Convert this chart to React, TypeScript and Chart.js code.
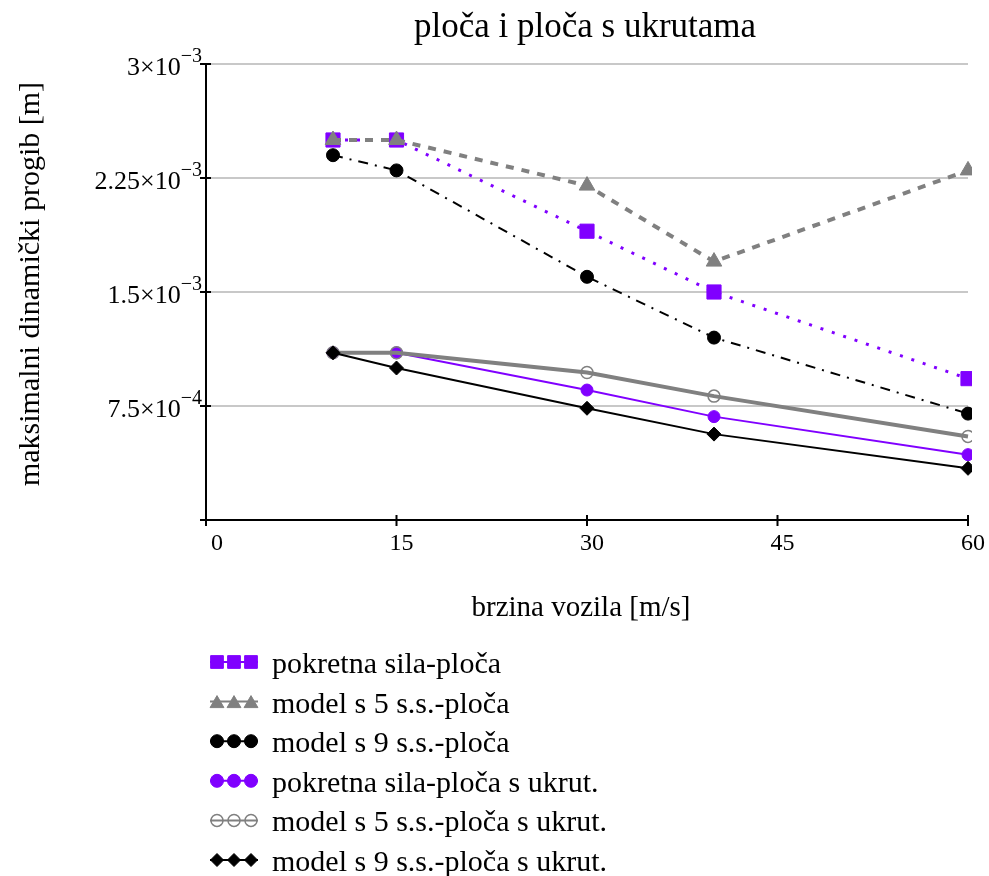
import React, { useEffect, useRef } from 'react';
import { Chart, registerables } from 'chart.js';

Chart.register(...registerables);

// ---- data ----
const speeds = [10, 15, 30, 40, 60];
const pokretnaSila = [2.5e-3, 2.5e-3, 1.9e-3, 1.5e-3, 0.93e-3];
const model5 = [2.5e-3, 2.5e-3, 2.2e-3, 1.7e-3, 2.3e-3];
const model9 = [2.4e-3, 2.3e-3, 1.6e-3, 1.2e-3, 0.7e-3];
const pokretnaSilaUkrut = [1.1e-3, 1.1e-3, 0.855e-3, 0.68e-3, 0.43e-3];
const model5Ukrut = [1.1e-3, 1.1e-3, 0.97e-3, 0.815e-3, 0.55e-3];
const model9Ukrut = [1.1e-3, 1.0e-3, 0.735e-3, 0.565e-3, 0.34e-3];

const seriesNames = [
  'pokretna sila-ploča',
  'model s 5 s.s.-ploča',
  'model s 9 s.s.-ploča',
  'pokretna sila-ploča s ukrut.',
  'model s 5 s.s.-ploča s ukrut.',
  'model s 9 s.s.-ploča s ukrut.',
];

const xTicks = [0, 15, 30, 45, 60];
const xTickLabels = ['0', '15', '30', '45', '60'];
const yTicks = [0.75e-3, 1.5e-3, 2.25e-3, 3e-3];
const yTickMantissa = ['7.5', '1.5', '2.25', '3'];
const yTickExp = ['\u22124', '\u22123', '\u22123', '\u22123'];

const titleText = 'ploča i ploča s ukrutama';
const xTitle = 'brzina vozila [m/s]';
const yTitle = 'maksimalni dinamički progib [m]';

const PURPLE = '#8000ff';
const GRAY = '#808080';
const BLACK = '#000000';
const FONT = '"Liberation Serif", "Times New Roman", serif';

type Style = {
  color: string;
  width: number;
  dash: number[];
  point: string;
  radius: number;
  legendRadius: number;
  fill: string;
  pbw: number;
};

const styles: Style[] = [
  { color: PURPLE, width: 3, dash: [3, 9], point: 'rect', radius: 10, legendRadius: 9, fill: PURPLE, pbw: 1 },
  { color: GRAY, width: 4, dash: [8, 8], point: 'triangle', radius: 9, legendRadius: 8, fill: GRAY, pbw: 1 },
  { color: BLACK, width: 2, dash: [10, 7, 2, 7], point: 'circle', radius: 6.5, legendRadius: 6.5, fill: BLACK, pbw: 1 },
  { color: PURPLE, width: 2, dash: [], point: 'circle', radius: 6, legendRadius: 6.5, fill: PURPLE, pbw: 1 },
  { color: GRAY, width: 4, dash: [], point: 'circle', radius: 6, legendRadius: 6, fill: 'rgba(0,0,0,0)', pbw: 1.5 },
  { color: BLACK, width: 2, dash: [], point: 'rectRot', radius: 7, legendRadius: 6.5, fill: BLACK, pbw: 1 },
];
const drawOrder = [5, 4, 3, 2, 1, 0];
const seriesValues = [pokretnaSila, model5, model9, pokretnaSilaUkrut, model5Ukrut, model9Ukrut];

function drawMarker(ctx: CanvasRenderingContext2D, s: Style, x: number, y: number, r: number) {
  ctx.save();
  ctx.setLineDash([]);
  ctx.beginPath();
  if (s.point === 'rect') {
    const h = r * Math.SQRT1_2;
    ctx.rect(x - h, y - h, 2 * h, 2 * h);
  } else if (s.point === 'rectRot') {
    ctx.moveTo(x, y - r);
    ctx.lineTo(x + r, y);
    ctx.lineTo(x, y + r);
    ctx.lineTo(x - r, y);
    ctx.closePath();
  } else if (s.point === 'triangle') {
    const w = r * Math.sqrt(3) / 2;
    ctx.moveTo(x, y - r);
    ctx.lineTo(x + w, y + r / 2);
    ctx.lineTo(x - w, y + r / 2);
    ctx.closePath();
  } else {
    ctx.arc(x, y, r, 0, Math.PI * 2);
  }
  ctx.fillStyle = s.fill;
  ctx.fill();
  ctx.lineWidth = s.pbw;
  ctx.strokeStyle = s.color;
  ctx.stroke();
  ctx.restore();
}

const decorPlugin = {
  id: 'decor',
  beforeDatasetsDraw(chart: any) {
    const ctx: CanvasRenderingContext2D = chart.ctx;
    const xs = chart.scales.x;
    const ys = chart.scales.y;
    const { left, right, top, bottom } = chart.chartArea;
    ctx.save();
    ctx.strokeStyle = BLACK;
    ctx.lineWidth = 2;
    ctx.beginPath();
    ctx.moveTo(left, top);
    ctx.lineTo(left, bottom);
    ctx.moveTo(left - 6, bottom);
    ctx.lineTo(right, bottom);
    for (const v of yTicks) {
      const y = ys.getPixelForValue(v);
      ctx.moveTo(left - 6, y);
      ctx.lineTo(left + 5, y);
    }
    for (const v of xTicks) {
      const x = xs.getPixelForValue(v);
      ctx.moveTo(x, bottom - 5);
      ctx.lineTo(x, bottom + 6);
    }
    ctx.stroke();
    ctx.restore();
  },
  afterDraw(chart: any) {
    const ctx: CanvasRenderingContext2D = chart.ctx;
    const xs = chart.scales.x;
    const ys = chart.scales.y;
    const { left, bottom } = chart.chartArea;
    ctx.save();
    ctx.fillStyle = BLACK;
    ctx.textBaseline = 'alphabetic';

    // title
    ctx.font = `35px ${FONT}`;
    ctx.textAlign = 'center';
    ctx.fillText(titleText, 585, 37);

    // x title
    ctx.font = `29px ${FONT}`;
    ctx.fillText(xTitle, 581, 616);

    // y title
    ctx.save();
    ctx.font = `30px ${FONT}`;
    ctx.translate(39, 284);
    ctx.rotate(-Math.PI / 2);
    ctx.fillText(yTitle, 0, 0);
    ctx.restore();

    // x tick labels
    ctx.font = `24px ${FONT}`;
    xTicks.forEach((v, i) => {
      const off = i === 0 ? 11 : 5;
      ctx.fillText(xTickLabels[i], xs.getPixelForValue(v) + off, bottom + 30);
    });

    // y tick labels with superscript exponent
    yTicks.forEach((v, i) => {
      const y = ys.getPixelForValue(v);
      ctx.textAlign = 'right';
      ctx.font = `20px ${FONT}`;
      const expW = ctx.measureText(yTickExp[i]).width;
      ctx.fillText(yTickExp[i], left - 4, y - 2);
      ctx.font = `26px ${FONT}`;
      ctx.fillText(yTickMantissa[i] + '\u00d710', left - 4 - expW, y + 11);
    });

    // legend
    ctx.textAlign = 'left';
    ctx.font = `30px ${FONT}`;
    seriesNames.forEach((name, i) => {
      const cy = 662 + i * 39.6;
      const s = styles[i];
      ctx.save();
      ctx.strokeStyle = s.color;
      ctx.lineWidth = Math.min(s.width, 2);
      ctx.beginPath();
      ctx.moveTo(210, cy);
      ctx.lineTo(258, cy);
      ctx.stroke();
      ctx.restore();
      [217, 234, 251].forEach((mx) => drawMarker(ctx, s, mx, cy + (s.point === 'triangle' ? 2 : 0), s.legendRadius));
      ctx.fillStyle = BLACK;
      ctx.fillText(name, 272, cy + 11);
    });
    ctx.restore();
  },
};

export default function App() {
  const ref = useRef<HTMLCanvasElement | null>(null);
  useEffect(() => {
    document.body.style.margin = '0';
    const canvas = ref.current!;
    const datasets = seriesValues.map((vals, i) => {
      const s = styles[i];
      return {
        label: seriesNames[i],
        data: speeds.map((x, k) => ({ x, y: vals[k] })),
        borderColor: s.color,
        backgroundColor: s.fill,
        borderWidth: s.width,
        borderDash: s.dash,
        pointStyle: s.point,
        pointRadius: s.radius,
        pointBackgroundColor: s.fill,
        pointBorderColor: s.color,
        pointBorderWidth: s.pbw,
        tension: 0,
        fill: false,
        order: drawOrder[i],
        clip: { left: 20, top: 20, right: 4, bottom: 20 },
      };
    });
    const chart = new Chart(canvas, {
      type: 'line',
      data: { datasets },
      options: {
        animation: false,
        responsive: false,
        maintainAspectRatio: false,
        layout: { padding: { left: 206, top: 64, right: 21, bottom: 356 } },
        plugins: { legend: { display: false }, tooltip: { enabled: false }, title: { display: false } },
        scales: {
          x: {
            type: 'linear',
            min: 0,
            max: 60,
            display: false,
            afterFit: (s: any) => { s.height = 0; },
          },
          y: {
            type: 'linear',
            min: 0,
            max: 3e-3,
            ticks: { display: false, stepSize: 7.5e-4 },
            grid: { color: '#c8c8c8', lineWidth: 2, drawTicks: false },
            border: { display: false },
            afterFit: (s: any) => { s.width = 0; },
          },
        },
      },
      plugins: [decorPlugin],
    } as any);
    return () => chart.destroy();
  }, []);
  return (
    <div style={{ width: 989, height: 876, background: '#fff' }}>
      <canvas ref={ref} width={989} height={876} style={{ display: 'block' }} />
    </div>
  );
}
